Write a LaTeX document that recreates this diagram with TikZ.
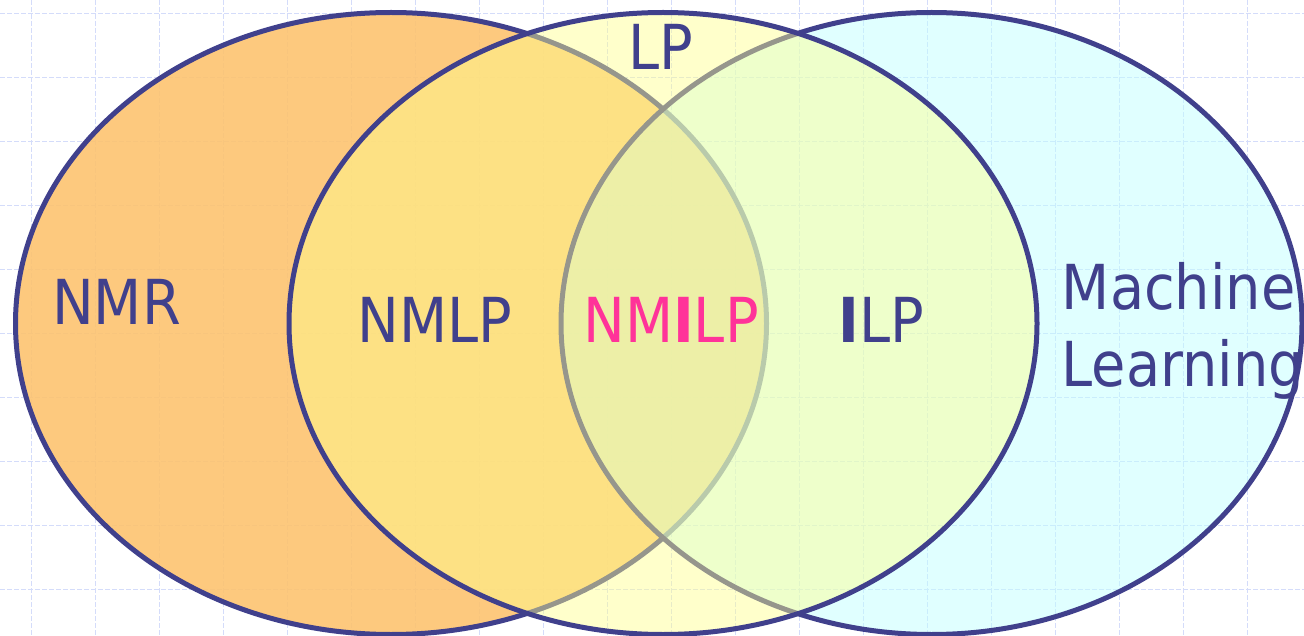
\documentclass[tikz,border=0pt]{standalone}
\usepackage{fontspec}
\setmainfont{DejaVu Sans Condensed}
\definecolor{edge}{RGB}{64,64,140}
\definecolor{gridc}{RGB}{212,220,250}
\definecolor{orangefill}{RGB}{253,195,112}
\definecolor{cyanfill}{RGB}{193,255,255}
\definecolor{yellowfill}{RGB}{255,255,140}
\definecolor{pinktext}{RGB}{255,51,153}
\tikzset{
  gridline/.style={draw=gridc, line width=1.3pt, dash pattern=on 5pt off 2pt},
  setedge/.style={draw=edge, line width=5pt},
  lab/.style={text=edge, inner sep=0pt, font=\fontsize{62}{74}\selectfont},
}
\begin{document}
\begin{tikzpicture}[x=1pt,y=-1pt]
\useasboundingbox (0,0) rectangle (1304,636);
% background grid
\foreach \k in {0,...,20}{
  \draw[gridline] ({31.7+64*\k},0) -- ({31.7+64*\k},636);
}
\foreach \k in {0,...,9}{
  \draw[gridline] (0,{13.3+64*\k}) -- (1304,{13.3+64*\k});
}
% left set: NMR
\fill[orangefill, fill opacity=0.9] (391,323.5) ellipse [x radius=375.5, y radius=311];
\draw[setedge] (391,323.5) ellipse [x radius=375.5, y radius=311];
% right set: Machine Learning
\fill[cyanfill, fill opacity=0.5] (931.5,323.5) ellipse [x radius=370.5, y radius=311];
\draw[setedge] (931.5,323.5) ellipse [x radius=370.5, y radius=311];
% centre set: LP
\fill[yellowfill, fill opacity=0.45] (663,323.5) ellipse [x radius=374, y radius=311];
\draw[setedge] (663,323.5) ellipse [x radius=374, y radius=311];
% labels
\node[lab, anchor=base] (nmr) at (116.5,325) {NMR};
\node[lab, anchor=base] (lp) at (661,70) {LP};
\node[lab, anchor=base] (nmlp) at (435,342) {NMLP};
\node[lab, anchor=base, text=pinktext] (nmilp) at (671,342) {NM\textbf{I}LP};
\node[lab, anchor=base] (ilp) at (881.7,342) {\textbf{I}LP};
\node[lab, anchor=base west] (ml1) at (1061.7,310) {Machine};
\node[lab, anchor=base west] (ml2) at (1061.7,386.7) {Learning};
\end{tikzpicture}
\end{document}
